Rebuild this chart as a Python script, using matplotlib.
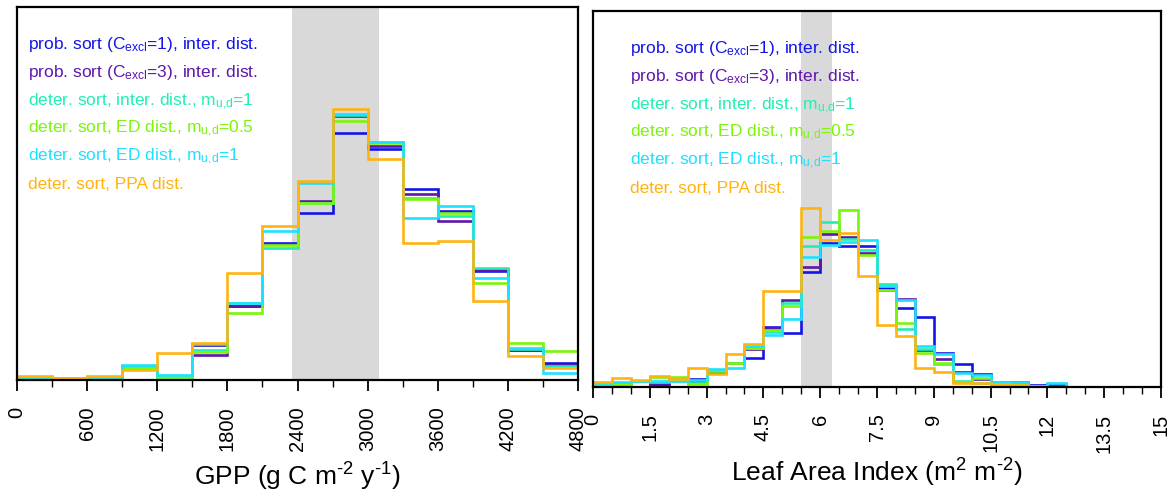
import numpy as np
import matplotlib
matplotlib.use("Agg")
import matplotlib.pyplot as plt
from matplotlib.ticker import MultipleLocator

plt.rcParams['font.family'] = ['Liberation Sans', 'DejaVu Sans']
plt.rcParams['mathtext.fontset'] = 'custom'
plt.rcParams['mathtext.rm'] = 'Liberation Sans'
plt.rcParams['mathtext.it'] = 'Liberation Sans:italic'
plt.rcParams['mathtext.bf'] = 'Liberation Sans:bold'

# ---------------- data ----------------
labels = [
    r"prob. sort (C$_{\mathrm{excl}}$=1), inter. dist.",
    r"prob. sort (C$_{\mathrm{excl}}$=3), inter. dist.",
    r"deter. sort, inter. dist., m$_{\mathrm{u{,}d}}$=1",
    r"deter. sort, ED dist., m$_{\mathrm{u{,}d}}$=0.5",
    r"deter. sort, ED dist., m$_{\mathrm{u{,}d}}$=1",
    r"deter. sort, PPA dist.",
]
colors = ['#1414E6', '#5E17AA', '#22EEB4', '#7CF50A', '#1EE0FF', '#FFB311']

# GPP histogram (bins of 300 g C m-2 y-1, 0..4800), relative frequency (arb. units)
gpp_edges = np.linspace(0, 4800, 17)
gpp_blue   = [2.7, 2.5, 2.7, 13.3, 4.0, 34.7, 74.0, 136.7, 166.7, 246.7, 231.3, 191.3, 169.3, 109.3, 30.0, 16.7]
gpp_purple = [2.7, 2.5, 2.7, 13.3, 4.0, 25.0, 74.0, 136.5, 179.3, 264.0, 234.0, 186.3, 159.3, 110.0, 30.0, 14.7]
gpp_teal   = [2.7, 2.5, 2.7, 14.0, 3.3, 30.0, 76.7, 132.0, 177.0, 265.0, 238.3, 181.7, 164.0, 111.7, 30.7, 14.0]
gpp_green  = [2.7, 2.5, 2.7, 12.3, 3.3, 28.0, 67.3, 134.7, 176.7, 259.0, 237.3, 180.7, 166.7, 96.7, 36.7, 29.3]
gpp_cyan   = [3.0, 2.5, 2.7, 14.7, 5.0, 36.0, 77.3, 149.3, 196.7, 266.0, 237.7, 161.7, 174.0, 101.7, 32.3, 7.3]
gpp_orange = [4.5, 2.5, 4.3, 10.0, 27.3, 36.7, 107.3, 154.0, 199.3, 271.3, 221.3, 136.7, 139.0, 79.3, 24.3, 12.3]
gpp_band = (2355, 3095)

# LAI histogram (bins of 0.5 m2 m-2, 0..15)
lai_edges = np.linspace(0, 15, 31)
lai_blue   = [3, 2, 6.3, 3, 8, 7.7, 15.5, 24, 28.7, 60.3, 54.3, 114.7, 143.7, 141.3, 141.3, 98.7, 79, 70, 33.7, 22.7, 13.3, 5, 5, 2.3, 3, 0, 0, 0, 0, 0]
lai_purple = [3, 2, 6.3, 2, 7, 6, 15.5, 24, 38, 59, 87, 119.7, 153, 150.3, 133.7, 97.5, 88.3, 37, 28, 14.7, 7.7, 5, 4, 1, 0.5, 0, 0, 0, 0, 0]
lai_teal   = [3, 3, 6.3, 5.5, 6, 4, 17, 24.5, 38.7, 55, 84.3, 141, 165.3, 147.7, 137, 103, 58.3, 38.5, 22.7, 6, 4, 5, 4, 1, 0.5, 0, 0, 0, 0, 0]
lai_green  = [3, 3, 6.3, 9.7, 9.7, 3.5, 16, 24.3, 38.7, 57, 81, 150.3, 156.3, 177, 131.7, 97, 64.3, 34.3, 24.5, 5.3, 8.7, 2.3, 2.3, 1, 0.5, 0, 0, 0, 0, 0]
lai_cyan   = [4, 5.3, 6.3, 5.7, 5.7, 7, 18, 18.7, 41, 52, 67.7, 129.7, 141.7, 145, 146.7, 101, 87, 41.3, 33, 14.3, 12, 5, 5, 1, 4, 0, 0, 0, 0, 0]
lai_orange = [4.7, 9.3, 7, 11.3, 8, 18.7, 13, 32.7, 43.3, 96, 96, 178.7, 147, 154.3, 111, 62, 51, 18.7, 15, 4.3, 3.7, 3, 1.7, 1, 0.5, 0, 0, 0, 0, 0]
lai_band = (5.5, 6.3)

gpp_series = [gpp_blue, gpp_purple, gpp_teal, gpp_green, gpp_cyan, gpp_orange]
lai_series = [lai_blue, lai_purple, lai_teal, lai_green, lai_cyan, lai_orange]

W, H = 1175, 498
fig = plt.figure(figsize=(W / 100, H / 100), dpi=100)

def px_axes(x0, y0, x1, y1):
    return fig.add_axes([x0 / W, 1 - y1 / H, (x1 - x0) / W, (y1 - y0) / H])

ax1 = px_axes(17, 7, 578, 380)
ax2 = px_axes(593, 11, 1161, 387)

def style(ax, edges, series, band, xlim, ymax, major, minor, ticklabels, xlabel, txt_x, txt_y0, lpad):
    ax.axvspan(band[0], band[1], color='#d9d9d9', zorder=0, lw=0)
    for vals, c in zip(series, colors):
        ax.stairs(vals, edges, color=c, lw=1.9, zorder=2)
    ax.set_xlim(*xlim)
    ax.set_ylim(0, ymax)
    ax.set_yticks([])
    ax.xaxis.set_minor_locator(MultipleLocator(minor))
    ax.set_xticks(np.arange(xlim[0], xlim[1] + major / 2, major))
    ax.set_xticklabels(ticklabels, rotation=90, fontsize=14.5)
    ax.tick_params(axis='x', which='major', direction='out', length=8, width=1.3, pad=11)
    ax.tick_params(axis='x', which='minor', direction='out', length=5, width=1.0)
    for s in ax.spines.values():
        s.set_linewidth(1.6)
    ax.set_xlabel(xlabel, fontsize=19, labelpad=lpad)
    for i, (lab, c) in enumerate(zip(labels, colors)):
        fig.text(txt_x / W, 1 - (txt_y0 + 27.9 * i) / H, lab, color=c,
                 fontsize=12.5, va='baseline', ha='left')

style(ax1, gpp_edges, gpp_series, gpp_band, (0, 4800), 373, 600, 300,
      ['0', '600', '1200', '1800', '2400', '3000', '3600', '4200', '4800'],
      r"GPP (g C m$^{\text{-2}}$ y$^{\text{-1}}$)", 28, 49.5, 7)
style(ax2, lai_edges, lai_series, lai_band, (0, 15), 376, 1.5, 0.5,
      ['0', '1.5', '3', '4.5', '6', '7.5', '9', '10.5', '12', '13.5', '15'],
      r"Leaf Area Index (m$^{\text{2}}$ m$^{\text{-2}}$)", 630, 53.5, 3)

fig.savefig("out.png", dpi=100)
